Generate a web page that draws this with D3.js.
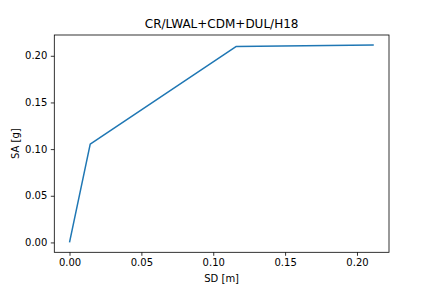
<!DOCTYPE html>
<html>
<head>
<meta charset="utf-8">
<script src="https://cdn.jsdelivr.net/npm/d3@7"></script>
<style>
	body { margin: 0; background: #fff; }
	text { font-family: "DejaVu Sans", sans-serif; fill: #000; }
</style>
</head>
<body>
<svg class="chart" width="432" height="288"></svg>
<script>
// pushover curve
let sdValues = [0, 0.0144, 0.1158, 0.2117];
let saValues = [0, 0.1053, 0.2099, 0.2117];
let xTicks = [0, 0.05, 0.10, 0.15, 0.20];
let yTicks = [0, 0.05, 0.10, 0.15, 0.20];

let title = "CR/LWAL+CDM+DUL/H18";
let xLabel = "SD [m]";
let yLabel = "SA [g]";

var svg = d3.select(".chart");
let margin = {left: 54.3, right: 43, top: 35, bottom: 35.7};
let innerWidth = 432 - margin.left - margin.right;
let innerHeight = 288 - margin.top - margin.bottom;

// matplotlib style 5% padding
let xPad = 0.05 * (d3.max(sdValues) - d3.min(sdValues));
let yPad = 0.05 * (d3.max(saValues) - d3.min(saValues));

var xScale = d3.scaleLinear()
	.domain([d3.min(sdValues) - xPad, d3.max(sdValues) + xPad])
	.range([0, innerWidth]);
var yScale = d3.scaleLinear()
	.domain([d3.min(saValues) - yPad, d3.max(saValues) + yPad])
	.range([innerHeight, 0]);

let g = svg.append("g")
	.attr("transform", `translate(${margin.left}, ${margin.top})`);

let xAxis = g.append("g")
	.attr("transform", `translate(0, ${innerHeight})`)
	.call(d3.axisBottom(xScale).tickValues(xTicks).tickFormat(d3.format(".2f")).tickSize(3.5).tickPadding(3.5));
let yAxis = g.append("g")
	.call(d3.axisLeft(yScale).tickValues(yTicks).tickFormat(d3.format(".2f")).tickSize(3.5).tickPadding(3.5));

[xAxis, yAxis].forEach(a => {
	a.select(".domain").remove();
	a.selectAll("line").attr("stroke", "#000").attr("stroke-width", 0.8);
	a.selectAll("text").attr("font-size", 10).attr("font-family", "DejaVu Sans, sans-serif").attr("fill", "#000");
});

let points = sdValues.map((d, i) => [d, saValues[i]]);
g.append("path")
	.datum(points)
	.attr("fill", "none")
	.attr("stroke", "#1f77b4")
	.attr("stroke-width", 1.5)
	.attr("stroke-linejoin", "round")
	.attr("d", d3.line().x(d => xScale(d[0])).y(d => yScale(d[1])));

g.append("rect")
	.attr("width", innerWidth)
	.attr("height", innerHeight)
	.attr("fill", "none")
	.attr("stroke", "#000")
	.attr("stroke-width", 0.8);

g.append("text")
	.attr("x", innerWidth / 2)
	.attr("y", -7)
	.attr("text-anchor", "middle")
	.attr("font-size", 12)
	.text(title);

g.append("text")
	.attr("x", innerWidth / 2)
	.attr("y", innerHeight + 30)
	.attr("text-anchor", "middle")
	.attr("font-size", 10)
	.text(xLabel);

g.append("text")
	.attr("transform", `translate(${-margin.left + 19}, ${innerHeight / 2}) rotate(-90)`)
	.attr("text-anchor", "middle")
	.attr("font-size", 10)
	.text(yLabel);
</script>
</body>
</html>
